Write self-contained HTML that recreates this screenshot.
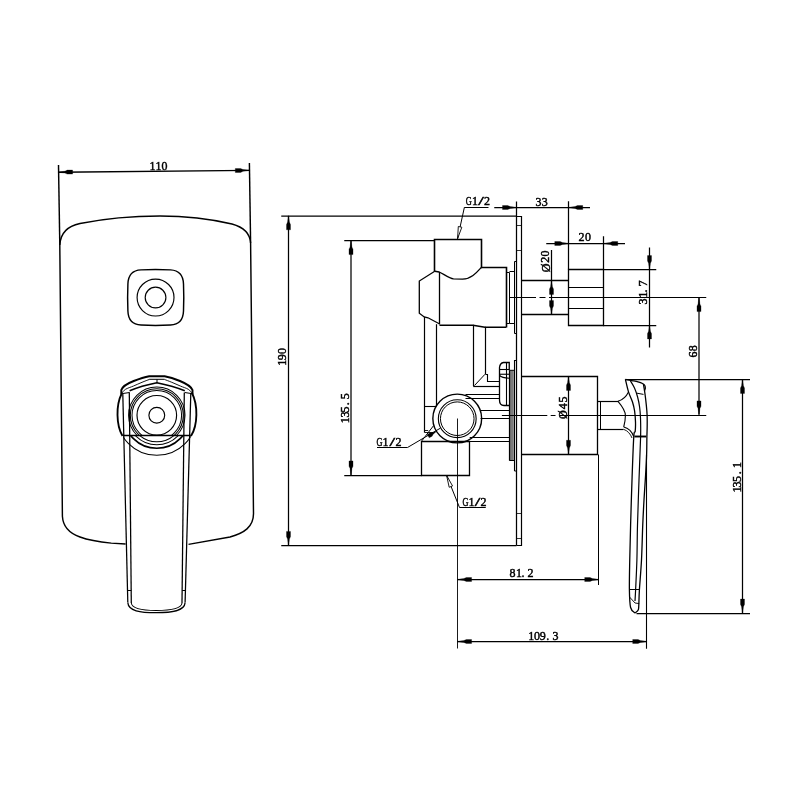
<!DOCTYPE html>
<html><head><meta charset="utf-8"><style>
html,body{margin:0;padding:0;background:#fff;}
svg{display:block;}
text{font-family:"Liberation Serif",serif;fill:#000;stroke:#000;stroke-width:0.45px;}
</style></head><body>
<svg style="will-change:transform" width="800" height="800" viewBox="0 0 800 800">
<rect width="800" height="800" fill="#fff"/>
<g fill="none" stroke="#000" stroke-width="1.25" stroke-linecap="butt" stroke-linejoin="miter">
<g stroke-width="1.45">
<line x1="58.50" y1="165.00" x2="59.80" y2="245.00" />
<line x1="249.40" y1="163.00" x2="250.60" y2="243.00" />
<line x1="58.50" y1="172.20" x2="249.40" y2="170.40" />
<polygon points="58.60,172.35 64.91,173.04 67.30,174.12 72.62,174.07 72.58,170.07 67.26,170.12 64.89,171.24 58.60,172.05" fill="#000" stroke="#000" stroke-width="0.3" stroke-linejoin="round"/>
<polygon points="249.30,170.25 242.99,169.56 240.60,168.48 235.28,168.53 235.32,172.53 240.64,172.48 243.01,171.36 249.30,170.55" fill="#000" stroke="#000" stroke-width="0.3" stroke-linejoin="round"/>
<text x="152.50" y="169.90" font-size="12" text-anchor="middle" transform="rotate(-0.55 152.50 169.90)">1</text>
<text x="158.50" y="169.90" font-size="12" text-anchor="middle" transform="rotate(-0.55 158.50 169.90)">1</text>
<text x="164.60" y="169.90" font-size="12" text-anchor="middle" transform="rotate(-0.55 164.60 169.90)">0</text>
<path d="M125.6,544 L111.25,543.1 C100,542 88,540 80,537 C70,533.5 63,527 62.4,516.25 L59.8,245 C60.5,232 68,226 80,223.5 C100,219.5 130,216 160,216 C190,216 215,220 232,224 C245,227.5 250,234 250.6,243 L253.5,513.75 C253.5,527 244,533 230,537 L188.5,544.4" />
<path d="M141,269.9 C148,269.5 163,269.5 170.5,269.9 C179.5,270.4 183.2,275 183.5,284 C183.8,291 183.8,304 183.5,311 C183.2,320 179.5,324.6 170.5,325 C163,325.4 148,325.4 141,325 C132,324.6 128.2,320 127.9,311 C127.6,304 127.6,291 127.9,284 C128.2,275 132,270.3 141,269.9 Z" stroke-width="1.44" />
<circle cx="155.55" cy="297.55" r="18.45" stroke-width="1.15" />
<circle cx="155.55" cy="297.55" r="10.35" stroke-width="1.15" />
<circle cx="156.80" cy="415.30" r="7.90" stroke-width="1.15" />
<circle cx="156.80" cy="415.30" r="19.80" stroke-width="1.15" />
<clipPath id="cA"><rect x="100" y="380" width="120" height="55.9"/></clipPath>
<clipPath id="cB"><polygon points="129.5,436 184.2,436 183,470 130.3,470"/></clipPath>
<clipPath id="cC"><polygon points="123.2,436 190.8,436 189,470 124.5,470"/></clipPath>
<g clip-path="url(#cA)">
<circle cx="156.80" cy="415.30" r="24.80" stroke-width="1.03" />
<circle cx="156.80" cy="415.30" r="26.50" stroke-width="1.03" />
<circle cx="156.80" cy="415.30" r="28.20" stroke-width="1.03" />
</g><g clip-path="url(#cB)">
<circle cx="156.80" cy="415.30" r="26.50" stroke-width="1.03" />
<circle cx="156.80" cy="415.30" r="29.50" stroke-width="1.03" />
<circle cx="156.80" cy="415.30" r="33.00" stroke-width="1.61" />
</g><g clip-path="url(#cC)">
<circle cx="156.80" cy="415.30" r="40.00" stroke-width="1.03" />
</g>
<path d="M121.5,394 C116,405 116,425 122.5,436" stroke-width="1.84" />
<path d="M192,393 C198,405 198,425 191,436" stroke-width="1.84" />
<path d="M121.3,394.5 L121.3,390 C122.5,386.5 126,384 133.75,381 C139,379 144,377.3 149.2,376.3 L164.6,376.3 C170,377.3 175,379 180,381 C186,383.5 191,386 192.5,390 L192.5,394.5" stroke-width="1.95" />
<line x1="149.20" y1="379.30" x2="164.60" y2="379.30" stroke-width="1.03" />
<path d="M122.00,393.00 C122.58,392.38 123.58,390.47 125.50,389.30 C127.42,388.13 130.75,387.17 133.50,386.00 C136.25,384.83 139.38,383.38 142.00,382.30 C144.62,381.22 148.00,379.97 149.20,379.50 M164.60,379.50 C165.80,379.97 169.18,381.22 171.80,382.30 C174.42,383.38 177.55,384.83 180.30,386.00 C183.05,387.17 186.38,388.13 188.30,389.30 C190.22,390.47 191.22,392.38 191.80,393.00" stroke-width="0.92" />
<line x1="157.00" y1="379.30" x2="157.00" y2="382.80" stroke-width="1.03" />
<path d="M129.6,390.8 C138,387.3 148,384.6 156.9,382.8 C166,384.6 176,387.3 184.8,390.8" stroke-width="1.61" />
<line x1="121.30" y1="393.70" x2="129.60" y2="392.40" stroke-width="1.03" />
<line x1="184.80" y1="392.40" x2="192.50" y2="393.70" stroke-width="1.03" />
<line x1="123.00" y1="435.50" x2="190.80" y2="435.50" stroke-width="1.26" />
<line x1="122.80" y1="394.00" x2="127.80" y2="602.60" stroke-width="1.26" />
<line x1="129.30" y1="392.50" x2="131.30" y2="603.00" stroke-width="1.26" />
<line x1="184.30" y1="392.50" x2="182.00" y2="603.00" stroke-width="1.26" />
<line x1="190.80" y1="393.00" x2="185.10" y2="602.60" stroke-width="1.26" />
<line x1="127.50" y1="590.50" x2="131.20" y2="590.50" stroke-width="1.03" />
<line x1="182.20" y1="590.50" x2="186.00" y2="590.50" stroke-width="1.03" />
<path d="M127.8,602.6 C128.5,611 140,612.7 156.1,612.7 C172,612.7 184.5,611 185.1,602.6" stroke-width="1.26" />
<path d="M131.3,603 C132,609 142,610.5 156.1,610.5 C170,610.5 181.5,609 182,603" stroke-width="1.03" />
</g>
<line x1="281.25" y1="216.00" x2="516.50" y2="216.00" />
<line x1="288.50" y1="216.00" x2="288.50" y2="545.50" />
<polygon points="288.35,215.80 287.60,222.10 286.50,224.48 286.50,229.80 290.50,229.80 290.50,224.48 289.40,222.10 288.65,215.80" fill="#000" stroke="#000" stroke-width="0.3" stroke-linejoin="round"/>
<polygon points="288.65,545.40 289.40,539.10 290.50,536.72 290.50,531.40 286.50,531.40 286.50,536.72 287.60,539.10 288.35,545.40" fill="#000" stroke="#000" stroke-width="0.3" stroke-linejoin="round"/>
<line x1="281.25" y1="545.50" x2="516.50" y2="545.50" />
<text x="286.20" y="362.75" font-size="12" text-anchor="middle" transform="rotate(-90 286.20 362.75)">1</text>
<text x="286.20" y="357.20" font-size="12" text-anchor="middle" transform="rotate(-90 286.20 357.20)">9</text>
<text x="286.20" y="350.90" font-size="12" text-anchor="middle" transform="rotate(-90 286.20 350.90)">0</text>
<line x1="344.25" y1="240.50" x2="435.00" y2="240.50" />
<line x1="351.00" y1="240.00" x2="351.00" y2="475.00" />
<polygon points="350.85,240.60 350.10,246.90 349.00,249.28 349.00,254.60 353.00,254.60 353.00,249.28 351.90,246.90 351.15,240.60" fill="#000" stroke="#000" stroke-width="0.3" stroke-linejoin="round"/>
<polygon points="351.15,474.90 351.90,468.60 353.00,466.22 353.00,460.90 349.00,460.90 349.00,466.22 350.10,468.60 350.85,474.90" fill="#000" stroke="#000" stroke-width="0.3" stroke-linejoin="round"/>
<line x1="344.25" y1="475.50" x2="421.70" y2="475.50" />
<text x="348.90" y="420.15" font-size="12" text-anchor="middle" transform="rotate(-90 348.90 420.15)">1</text>
<text x="348.90" y="414.50" font-size="12" text-anchor="middle" transform="rotate(-90 348.90 414.50)">3</text>
<text x="348.90" y="409.50" font-size="12" text-anchor="middle" transform="rotate(-90 348.90 409.50)">5</text>
<text x="348.90" y="403.80" font-size="12" text-anchor="middle" transform="rotate(-90 348.90 403.80)">.</text>
<text x="348.90" y="396.25" font-size="12" text-anchor="middle" transform="rotate(-90 348.90 396.25)">5</text>
<polyline points="516.50,201.50 516.50,545.50" />
<polyline points="516.50,216.50 521.50,216.50 521.50,545.50 516.50,545.50" stroke-width="1.20" />
<line x1="516.50" y1="225.50" x2="521.50" y2="225.50" stroke-width="0.80" />
<line x1="516.50" y1="250.50" x2="521.50" y2="250.50" stroke-width="0.80" />
<line x1="516.40" y1="513.50" x2="521.30" y2="513.50" stroke-width="0.80" />
<line x1="516.40" y1="538.50" x2="521.30" y2="538.50" stroke-width="0.80" />
<polyline points="434.50,271.50 434.50,239.50 481.50,239.50 481.50,267.50 506.50,267.50 506.50,327.50" stroke-width="1.60" />
<polyline points="439.50,325.20 473.00,325.20 485.00,327.20 506.20,327.20" stroke-width="1.50" />
<path d="M434.75,271.25 L439.25,272 C443,273.5 449,278.5 453.5,278.9 L462.5,279.2 C467,279 471,277 473,275.5 C476.5,273 479,270 481.25,267.5" stroke-width="1.30" />
<line x1="439.50" y1="272.00" x2="439.50" y2="324.50" stroke-width="1.30" />
<polyline points="434.75,271.25 419.30,281.00 419.30,313.25 424.25,317.00 428.00,317.75 439.25,323.75" stroke-width="1.30" />
<line x1="424.50" y1="317.00" x2="424.50" y2="432.50" stroke-width="1.20" />
<line x1="436.50" y1="324.20" x2="436.50" y2="405.90" stroke-width="1.20" />
<line x1="424.50" y1="406.50" x2="436.25" y2="406.50" stroke-width="1.10" />
<line x1="473.50" y1="324.80" x2="473.50" y2="386.25" stroke-width="1.20" />
<line x1="485.50" y1="326.75" x2="485.50" y2="374.25" stroke-width="1.20" />
<polyline points="485.50,374.50 487.50,374.50 487.50,381.50 499.50,381.50" stroke-width="1.10" />
<line x1="485.00" y1="374.25" x2="474.50" y2="385.50" stroke-width="1.00" />
<line x1="473.30" y1="386.50" x2="499.25" y2="386.50" stroke-width="1.20" />
<line x1="465.50" y1="394.50" x2="499.50" y2="394.50" stroke-width="1.00" />
<line x1="465.50" y1="398.50" x2="499.50" y2="398.50" stroke-width="1.00" />
<line x1="480.50" y1="410.50" x2="509.00" y2="410.50" stroke-width="1.00" />
<line x1="480.50" y1="418.50" x2="509.00" y2="418.50" stroke-width="1.00" />
<line x1="469.70" y1="437.50" x2="509.00" y2="437.50" stroke-width="1.00" />
<line x1="469.70" y1="441.50" x2="509.00" y2="441.50" stroke-width="1.00" />
<polyline points="506.50,272.50 509.50,272.50 509.50,323.50 506.50,323.50" stroke-width="1.00" />
<polyline points="509.50,271.50 514.50,271.50 514.50,323.50 509.50,323.50" stroke-width="1.00" />
<polyline points="516.50,261.50 514.50,261.50 514.50,333.50 516.50,333.50" stroke-width="1.00" />
<rect x="509.6" y="370.3" width="4.9" height="90.2" fill="#9a9a9a" stroke="none"/>
<line x1="511.50" y1="370.30" x2="511.50" y2="460.50" stroke-width="0.60" stroke="#666"/>
<line x1="512.50" y1="370.30" x2="512.50" y2="460.50" stroke-width="0.60" stroke="#666"/>
<line x1="509.60" y1="370.30" x2="509.60" y2="460.50" stroke-width="1.40" />
<line x1="514.50" y1="360.00" x2="514.50" y2="471.00" stroke-width="1.10" />
<line x1="509.30" y1="370.30" x2="514.50" y2="370.30" stroke-width="1.00" />
<line x1="509.30" y1="460.50" x2="514.50" y2="460.50" stroke-width="1.00" />
<line x1="514.50" y1="360.50" x2="516.50" y2="360.50" stroke-width="1.00" />
<line x1="514.50" y1="471.00" x2="516.50" y2="471.00" stroke-width="1.00" />
<path d="M509.25,370.3 V362.5 H503.5 C501.3,362.8 499.8,365 499.5,367.5 V400 C499.5,403.5 501.5,405.5 504,405.5 H509.3" stroke-width="1.30" />
<line x1="506.50" y1="362.50" x2="506.50" y2="405.50" stroke-width="1.10" />
<line x1="499.50" y1="369.50" x2="509.25" y2="369.50" stroke-width="1.10" />
<line x1="499.50" y1="374.25" x2="509.25" y2="374.25" stroke-width="1.10" />
<path d="M499.6,375.5 C501,377 503,377.8 509.3,378.2" stroke-width="1.10" />
<circle cx="457.25" cy="418.50" r="24.40" stroke-width="1.40" />
<circle cx="457.25" cy="418.70" r="18.90" stroke-width="1.10" />
<circle cx="457.25" cy="418.70" r="16.80" stroke-width="1.00" />
<polygon points="421.50,441.50 469.50,441.50 469.50,475.50 421.50,475.50" stroke-width="1.30" />
<line x1="424.50" y1="432.50" x2="433.50" y2="432.50" stroke-width="0.90" />
<line x1="457.50" y1="418.50" x2="457.50" y2="648.50" stroke-width="0.90" />
<text x="468.75" y="204.80" font-size="12" text-anchor="middle" textLength="6.0" lengthAdjust="spacingAndGlyphs">G</text>
<text x="475.10" y="204.80" font-size="12" text-anchor="middle">1</text>
<text x="481.10" y="204.80" font-size="12" text-anchor="middle" textLength="5.6" lengthAdjust="spacingAndGlyphs">/</text>
<text x="487.00" y="204.80" font-size="12" text-anchor="middle">2</text>
<line x1="464.40" y1="207.50" x2="488.50" y2="207.50" stroke-width="1.00" />
<line x1="464.40" y1="207.25" x2="457.50" y2="238.80" stroke-width="1.00" />
<polygon points="457.60,238.60 461.83,227.23 458.30,226.49" fill="#fff" stroke-width="0.9"/>
<text x="379.60" y="445.60" font-size="12" text-anchor="middle" textLength="6.0" lengthAdjust="spacingAndGlyphs">G</text>
<text x="385.50" y="445.60" font-size="12" text-anchor="middle">1</text>
<text x="392.40" y="445.60" font-size="12" text-anchor="middle" textLength="5.6" lengthAdjust="spacingAndGlyphs">/</text>
<text x="398.40" y="445.60" font-size="12" text-anchor="middle">2</text>
<polyline points="377.00,447.50 407.50,447.50 440.50,428.10" stroke-width="1.00" />
<polygon points="435.92,431.47 432.05,432.86 430.17,432.68 427.22,434.40 429.23,437.86 432.18,436.14 432.95,434.42 436.08,431.73" fill="#000" stroke="#000" stroke-width="0.3" stroke-linejoin="round"/>
<line x1="421.75" y1="440.90" x2="433.40" y2="425.90" stroke-width="1.00" />
<line x1="424.75" y1="430.50" x2="428.20" y2="430.50" stroke-width="0.90" />
<text x="465.40" y="505.80" font-size="12" text-anchor="middle" textLength="6.0" lengthAdjust="spacingAndGlyphs">G</text>
<text x="471.60" y="505.80" font-size="12" text-anchor="middle">1</text>
<text x="477.50" y="505.80" font-size="12" text-anchor="middle" textLength="5.6" lengthAdjust="spacingAndGlyphs">/</text>
<text x="483.50" y="505.80" font-size="12" text-anchor="middle">2</text>
<polyline points="485.75,507.50 459.50,507.50 446.60,475.40" stroke-width="1.00" />
<polygon points="446.60,475.40 449.18,487.26 452.55,485.98" fill="#fff" stroke-width="0.9"/>
<polyline points="521.50,280.50 568.50,280.50" stroke-width="1.30" />
<polyline points="521.50,314.50 568.50,314.50" stroke-width="1.30" />
<line x1="509.50" y1="297.50" x2="706.25" y2="297.50" stroke-width="1.10" stroke-dasharray="26.5 3.5 6 3.5 300"/>
<polygon points="568.50,269.50 603.50,269.50 603.50,325.50 568.50,325.50" stroke-width="1.30" />
<line x1="568.75" y1="287.50" x2="603.25" y2="287.50" stroke-width="1.00" />
<line x1="568.75" y1="308.50" x2="603.25" y2="308.50" stroke-width="1.00" />
<line x1="603.25" y1="269.50" x2="656.25" y2="269.50" />
<line x1="603.25" y1="325.50" x2="656.25" y2="325.50" />
<line x1="568.50" y1="201.25" x2="568.50" y2="269.50" />
<line x1="494.25" y1="207.50" x2="590.00" y2="207.50" />
<polygon points="516.50,207.35 510.20,206.60 507.82,205.50 502.50,205.50 502.50,209.50 507.82,209.50 510.20,208.40 516.50,207.65" fill="#000" stroke="#000" stroke-width="0.3" stroke-linejoin="round"/>
<polygon points="568.75,207.65 575.05,208.40 577.43,209.50 582.75,209.50 582.75,205.50 577.43,205.50 575.05,206.60 568.75,207.35" fill="#000" stroke="#000" stroke-width="0.3" stroke-linejoin="round"/>
<text x="538.50" y="205.90" font-size="12" text-anchor="middle">3</text>
<text x="544.70" y="205.90" font-size="12" text-anchor="middle">3</text>
<line x1="603.50" y1="236.25" x2="603.50" y2="269.50" />
<line x1="546.25" y1="243.50" x2="625.00" y2="243.50" />
<polygon points="568.75,243.35 562.45,242.60 560.07,241.50 554.75,241.50 554.75,245.50 560.07,245.50 562.45,244.40 568.75,243.65" fill="#000" stroke="#000" stroke-width="0.3" stroke-linejoin="round"/>
<polygon points="603.75,243.65 610.05,244.40 612.43,245.50 617.75,245.50 617.75,241.50 612.43,241.50 610.05,242.60 603.75,243.35" fill="#000" stroke="#000" stroke-width="0.3" stroke-linejoin="round"/>
<text x="581.60" y="241.10" font-size="12" text-anchor="middle">2</text>
<text x="588.00" y="241.10" font-size="12" text-anchor="middle">0</text>
<line x1="551.50" y1="250.00" x2="551.50" y2="315.00" />
<polygon points="551.35,280.40 550.60,286.70 549.50,289.08 549.50,294.40 553.50,294.40 553.50,289.08 552.40,286.70 551.65,280.40" fill="#000" stroke="#000" stroke-width="0.3" stroke-linejoin="round"/>
<polygon points="551.65,314.60 552.40,308.30 553.50,305.92 553.50,300.60 549.50,300.60 549.50,305.92 550.60,308.30 551.35,314.60" fill="#000" stroke="#000" stroke-width="0.3" stroke-linejoin="round"/>
<text x="549.50" y="268.00" font-size="12" text-anchor="middle" transform="rotate(-90 549.50 268.00)">Ø</text>
<text x="549.50" y="259.65" font-size="12" text-anchor="middle" transform="rotate(-90 549.50 259.65)">2</text>
<text x="549.50" y="253.40" font-size="12" text-anchor="middle" transform="rotate(-90 549.50 253.40)">0</text>
<line x1="649.50" y1="247.50" x2="649.50" y2="347.50" />
<polygon points="649.65,269.60 650.40,263.30 651.50,260.92 651.50,255.60 647.50,255.60 647.50,260.92 648.60,263.30 649.35,269.60" fill="#000" stroke="#000" stroke-width="0.3" stroke-linejoin="round"/>
<polygon points="649.35,324.90 648.60,331.20 647.50,333.58 647.50,338.90 651.50,338.90 651.50,333.58 650.40,331.20 649.65,324.90" fill="#000" stroke="#000" stroke-width="0.3" stroke-linejoin="round"/>
<text x="647.00" y="301.50" font-size="12" text-anchor="middle" transform="rotate(-90 647.00 301.50)">3</text>
<text x="647.00" y="294.75" font-size="12" text-anchor="middle" transform="rotate(-90 647.00 294.75)">1</text>
<text x="647.00" y="290.90" font-size="12" text-anchor="middle" transform="rotate(-90 647.00 290.90)">.</text>
<text x="647.00" y="283.60" font-size="12" text-anchor="middle" transform="rotate(-90 647.00 283.60)">7</text>
<line x1="699.00" y1="297.50" x2="699.00" y2="414.50" />
<polygon points="698.85,297.60 698.10,303.90 697.00,306.28 697.00,311.60 701.00,311.60 701.00,306.28 699.90,303.90 699.15,297.60" fill="#000" stroke="#000" stroke-width="0.3" stroke-linejoin="round"/>
<polygon points="699.15,414.90 699.90,408.60 701.00,406.22 701.00,400.90 697.00,400.90 697.00,406.22 698.10,408.60 698.85,414.90" fill="#000" stroke="#000" stroke-width="0.3" stroke-linejoin="round"/>
<text x="697.00" y="354.50" font-size="12" text-anchor="middle" transform="rotate(-90 697.00 354.50)">6</text>
<text x="697.00" y="348.30" font-size="12" text-anchor="middle" transform="rotate(-90 697.00 348.30)">8</text>
<polyline points="521.50,376.50 597.50,376.50 597.50,454.50 521.50,454.50" stroke-width="1.30" />
<line x1="568.50" y1="376.25" x2="568.50" y2="454.50" />
<polygon points="568.35,376.40 567.60,382.70 566.50,385.08 566.50,390.40 570.50,390.40 570.50,385.08 569.40,382.70 568.65,376.40" fill="#000" stroke="#000" stroke-width="0.3" stroke-linejoin="round"/>
<polygon points="568.65,454.30 569.40,448.00 570.50,445.62 570.50,440.30 566.50,440.30 566.50,445.62 567.60,448.00 568.35,454.30" fill="#000" stroke="#000" stroke-width="0.3" stroke-linejoin="round"/>
<text x="566.60" y="414.70" font-size="12" text-anchor="middle" transform="rotate(-90 566.60 414.70)">Ø</text>
<text x="566.60" y="406.25" font-size="12" text-anchor="middle" transform="rotate(-90 566.60 406.25)">4</text>
<text x="566.60" y="399.60" font-size="12" text-anchor="middle" transform="rotate(-90 566.60 399.60)">5</text>
<line x1="501.90" y1="415.50" x2="706.25" y2="415.50" stroke-width="1.10" stroke-dasharray="45.4 3.4 4.8 4.1 300"/>
<line x1="598.50" y1="454.50" x2="598.50" y2="585.00" stroke-width="1.00" />
<polyline points="597.50,401.50 618.50,401.50" stroke-width="1.20" />
<polyline points="597.50,429.50 623.50,429.50" stroke-width="1.20" />
<line x1="600.50" y1="401.30" x2="600.50" y2="429.30" stroke-width="1.00" />
<path d="M618,401.3 C622,400 626,397 628.5,391.9" stroke-width="1.10" />
<path d="M618,401.3 C622,406 625.4,411 625.4,415.5 C625.4,420 624.5,424 623.7,427" stroke-width="1.10" />
<path d="M623.7,427 C628,428 632,432 633.75,436.5" stroke-width="1.10" />
<path d="M623.5,429.3 C627.5,430.5 630.5,434 632,438" stroke-width="0.90" />
<path d="M625.40,379.40 C625.92,381.48 627.32,388.13 628.50,391.90 C629.68,395.67 631.48,398.82 632.50,402.00 C633.52,405.18 634.10,407.67 634.60,411.00 C635.10,414.33 635.40,418.63 635.50,422.00 C635.60,425.37 635.49,428.70 635.20,431.20 C634.91,433.70 634.28,428.87 633.75,437.00 C633.22,445.13 632.52,465.33 632.00,480.00 C631.48,494.67 630.98,511.67 630.60,525.00 C630.23,538.33 629.95,549.17 629.75,560.00 C629.55,570.83 629.26,582.08 629.40,590.00 C629.54,597.92 629.67,603.65 630.60,607.50 C631.53,611.35 634.27,612.17 635.00,613.10" stroke-width="1.30" />
<path d="M630.20,380.50 C630.92,381.75 633.27,385.25 634.50,388.00 C635.73,390.75 636.75,393.83 637.60,397.00 C638.45,400.17 639.12,403.48 639.60,407.00 C640.08,410.52 640.33,413.10 640.50,418.10 C640.67,423.10 640.85,426.68 640.60,437.00 C640.35,447.32 639.52,465.33 639.00,480.00 C638.48,494.67 637.85,511.67 637.50,525.00 C637.15,538.33 637.22,549.17 636.90,560.00 C636.58,570.83 635.92,583.17 635.60,590.00 C635.28,596.83 635.10,599.17 635.00,601.00" stroke-width="1.20" />
<path d="M643.40,384.00 C643.67,385.67 644.52,390.50 645.00,394.00 C645.48,397.50 645.95,401.50 646.30,405.00 C646.65,408.50 646.95,411.67 647.10,415.00 C647.25,418.33 647.23,421.33 647.20,425.00 C647.17,428.67 647.00,432.00 646.90,437.00 C646.80,442.00 646.82,448.67 646.60,455.00 C646.38,461.33 646.03,467.50 645.60,475.00 C645.17,482.50 644.48,491.67 644.00,500.00 C643.52,508.33 643.17,515.00 642.75,525.00 C642.33,535.00 642.06,549.17 641.50,560.00 C640.94,570.83 639.85,582.50 639.40,590.00 C638.95,597.50 639.00,601.67 638.80,605.00 C638.60,608.33 638.83,608.65 638.20,610.00 C637.57,611.35 635.53,612.58 635.00,613.10" stroke-width="1.30" />
<path d="M625.40,379.40 C626.50,379.60 629.90,380.20 632.00,380.60 C634.10,381.00 636.25,381.32 638.00,381.80 C639.75,382.28 641.37,382.88 642.50,383.50 C643.63,384.12 644.33,384.67 644.80,385.50 C645.27,386.33 645.35,387.67 645.30,388.50 C645.25,389.33 644.63,390.17 644.50,390.50" stroke-width="1.30" />
<line x1="637.00" y1="393.20" x2="643.50" y2="394.40" stroke-width="1.00" />
<line x1="634.40" y1="436.50" x2="646.30" y2="436.50" stroke-width="1.90" />
<line x1="629.50" y1="589.50" x2="639.40" y2="589.50" stroke-width="1.00" />
<polyline points="629.50,597.00 635.00,603.00 639.20,603.60" stroke-width="0.90" />
<line x1="625.40" y1="379.50" x2="750.00" y2="379.50" />
<line x1="636.50" y1="613.50" x2="750.00" y2="613.50" />
<line x1="742.50" y1="379.20" x2="742.50" y2="613.25" />
<polygon points="742.35,379.40 741.60,385.70 740.50,388.08 740.50,393.40 744.50,393.40 744.50,388.08 743.40,385.70 742.65,379.40" fill="#000" stroke="#000" stroke-width="0.3" stroke-linejoin="round"/>
<polygon points="742.65,613.10 743.40,606.80 744.50,604.42 744.50,599.10 740.50,599.10 740.50,604.42 741.60,606.80 742.35,613.10" fill="#000" stroke="#000" stroke-width="0.3" stroke-linejoin="round"/>
<text x="740.85" y="489.60" font-size="12" text-anchor="middle" transform="rotate(-90 740.85 489.60)">1</text>
<text x="740.85" y="484.60" font-size="12" text-anchor="middle" transform="rotate(-90 740.85 484.60)">3</text>
<text x="740.85" y="478.90" font-size="12" text-anchor="middle" transform="rotate(-90 740.85 478.90)">5</text>
<text x="740.85" y="472.70" font-size="12" text-anchor="middle" transform="rotate(-90 740.85 472.70)">.</text>
<text x="740.85" y="465.00" font-size="12" text-anchor="middle" transform="rotate(-90 740.85 465.00)">1</text>
<line x1="646.50" y1="455.00" x2="646.50" y2="648.75" stroke-width="1.10" />
<line x1="457.50" y1="579.50" x2="598.75" y2="579.50" />
<polygon points="457.60,579.65 463.90,580.40 466.28,581.50 471.60,581.50 471.60,577.50 466.28,577.50 463.90,578.60 457.60,579.35" fill="#000" stroke="#000" stroke-width="0.3" stroke-linejoin="round"/>
<polygon points="598.70,579.35 592.40,578.60 590.02,577.50 584.70,577.50 584.70,581.50 590.02,581.50 592.40,580.40 598.70,579.65" fill="#000" stroke="#000" stroke-width="0.3" stroke-linejoin="round"/>
<text x="512.50" y="577.10" font-size="12" text-anchor="middle">8</text>
<text x="519.00" y="577.10" font-size="12" text-anchor="middle">1</text>
<text x="523.00" y="577.10" font-size="12" text-anchor="middle">.</text>
<text x="530.50" y="577.10" font-size="12" text-anchor="middle">2</text>
<line x1="457.50" y1="641.50" x2="646.75" y2="641.50" />
<polygon points="457.60,641.65 463.90,642.40 466.28,643.50 471.60,643.50 471.60,639.50 466.28,639.50 463.90,640.60 457.60,641.35" fill="#000" stroke="#000" stroke-width="0.3" stroke-linejoin="round"/>
<polygon points="646.70,641.35 640.40,640.60 638.02,639.50 632.70,639.50 632.70,643.50 638.02,643.50 640.40,642.40 646.70,641.65" fill="#000" stroke="#000" stroke-width="0.3" stroke-linejoin="round"/>
<text x="531.25" y="639.85" font-size="12" text-anchor="middle">1</text>
<text x="537.00" y="639.85" font-size="12" text-anchor="middle">0</text>
<text x="542.75" y="639.85" font-size="12" text-anchor="middle">9</text>
<text x="547.75" y="639.85" font-size="12" text-anchor="middle">.</text>
<text x="555.50" y="639.85" font-size="12" text-anchor="middle">3</text>
</g>
</svg>
</body></html>
